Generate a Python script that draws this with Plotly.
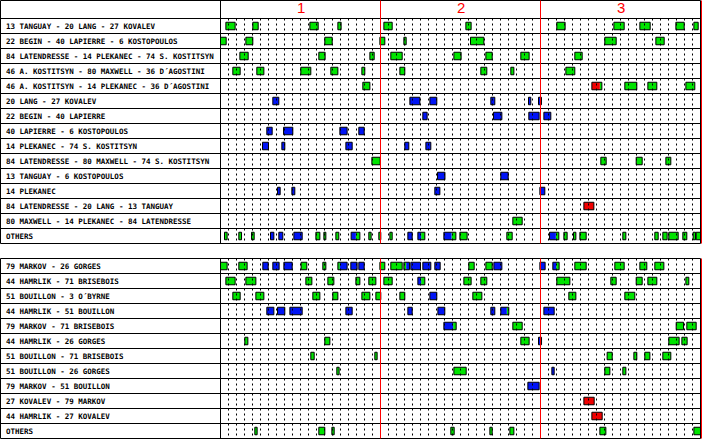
import plotly.graph_objects as go

# ---------------- data ----------------
periods = ["1", "2", "3"]
period_ends = [20, 40, 60]

top_labels = [
    "13 TANGUAY - 20 LANG - 27 KOVALEV",
    "22 BEGIN - 40 LAPIERRE - 6 KOSTOPOULOS",
    "84 LATENDRESSE - 14 PLEKANEC - 74 S. KOSTITSYN",
    "46 A. KOSTITSYN - 80 MAXWELL - 36 D\u00b4AGOSTINI",
    "46 A. KOSTITSYN - 14 PLEKANEC - 36 D\u00b4AGOSTINI",
    "20 LANG - 27 KOVALEV",
    "22 BEGIN - 40 LAPIERRE",
    "40 LAPIERRE - 6 KOSTOPOULOS",
    "14 PLEKANEC - 74 S. KOSTITSYN",
    "84 LATENDRESSE - 80 MAXWELL - 74 S. KOSTITSYN",
    "13 TANGUAY - 6 KOSTOPOULOS",
    "14 PLEKANEC",
    "84 LATENDRESSE - 20 LANG - 13 TANGUAY",
    "80 MAXWELL - 14 PLEKANEC - 84 LATENDRESSE",
    "OTHERS",
]

# shifts: (start minute, end minute, state)  G = even strength, B = power play, R = short-handed
top_shifts = [
    [(0.67, 1.83, "G"), (4.04, 4.71, "G"), (11.17, 12.21, "G"), (14.67, 15.08, "G"), (20.42, 21.46, "G"),
     (30.67, 31.33, "G"), (42.04, 43.08, "G"), (49.17, 50.46, "G"), (52.42, 53.71, "G"), (56.92, 57.96, "G"),
     (59.17, 59.71, "G")],
    [(0.0, 0.71, "G"), (3.17, 4.04, "G"), (13.04, 13.96, "G"), (19.92, 20.54, "G"), (22.92, 23.21, "G"),
     (31.25, 32.92, "G"), (48.04, 49.46, "G"), (54.42, 55.46, "G")],
    [(2.42, 3.46, "G"), (12.29, 13.08, "G"), (18.67, 19.21, "G"), (21.29, 22.71, "G"), (29.17, 30.08, "G"),
     (33.17, 33.96, "G"), (37.54, 38.58, "G"), (44.29, 45.21, "G")],
    [(1.54, 2.46, "G"), (4.54, 5.42, "G"), (10.04, 11.29, "G"), (13.79, 14.67, "G"), (17.67, 18.04, "G"),
     (22.42, 23.04, "G"), (32.54, 33.29, "G"), (36.29, 36.67, "G"), (43.17, 44.29, "G")],
    [(17.79, 18.67, "G"), (46.42, 47.42, "R"), (47.42, 47.67, "G"), (50.54, 52.04, "G"), (53.42, 54.54, "G"),
     (58.17, 59.29, "G")],
    [(6.54, 7.29, "B"), (23.67, 24.92, "B"), (26.17, 27.04, "B"), (33.79, 34.29, "B"), (38.50, 38.79, "B"),
     (39.75, 40.12, "B")],
    [(25.29, 25.83, "B"), (34.13, 35.17, "B"), (38.54, 39.83, "B"), (40.42, 41.29, "B")],
    [(5.79, 6.46, "B"), (7.88, 9.04, "B"), (14.92, 15.83, "B"), (17.29, 17.96, "B")],
    [(5.25, 6.00, "B"), (7.67, 8.04, "B"), (15.67, 16.46, "B"), (23.04, 23.54, "B"), (25.67, 26.29, "B")],
    [(18.92, 19.96, "G"), (47.54, 48.21, "G"), (51.96, 52.71, "G"), (55.67, 56.29, "G")],
    [(27.13, 28.06, "B"), (35.04, 35.96, "B")],
    [(7.13, 7.46, "B"), (8.92, 9.29, "B"), (26.79, 27.42, "B"), (39.92, 40.54, "B")],
    [(45.42, 46.67, "R")],
    [(36.54, 37.71, "G")],
    [(0.50, 0.83, "G"), (2.29, 2.63, "G"), (3.88, 4.21, "G"), (6.25, 6.67, "B"), (7.29, 7.79, "B"),
     (9.17, 10.21, "B"), (11.92, 12.42, "G"), (12.92, 13.17, "G"), (14.42, 14.79, "G"), (16.33, 16.92, "B"),
     (16.92, 17.42, "G"), (18.54, 18.83, "G"), (19.79, 20.04, "G"), (21.17, 21.46, "G"), (23.42, 23.96, "B"),
     (24.67, 25.08, "B"), (25.08, 25.54, "G"), (27.92, 28.88, "B"), (28.88, 29.42, "G"), (29.92, 30.83, "G"),
     (35.79, 36.46, "G"), (41.13, 41.92, "B"), (41.92, 42.29, "G"), (42.92, 43.33, "G"), (44.13, 44.42, "G"),
     (44.92, 45.71, "G"), (50.29, 50.67, "G"), (54.29, 54.71, "G"), (55.29, 55.83, "G"), (56.04, 57.21, "G"),
     (57.79, 58.29, "G"), (59.08, 59.38, "G"), (59.46, 60.00, "G")],
]

bottom_labels = [
    "79 MARKOV - 26 GORGES",
    "44 HAMRLIK - 71 BRISEBOIS",
    "51 BOUILLON - 3 O\u00b4BYRNE",
    "44 HAMRLIK - 51 BOUILLON",
    "79 MARKOV - 71 BRISEBOIS",
    "44 HAMRLIK - 26 GORGES",
    "51 BOUILLON - 71 BRISEBOIS",
    "51 BOUILLON - 26 GORGES",
    "79 MARKOV - 51 BOUILLON",
    "27 KOVALEV - 79 MARKOV",
    "44 HAMRLIK - 27 KOVALEV",
    "OTHERS",
]

bottom_shifts = [
    [(0.0, 0.83, "G"), (2.29, 3.33, "G"), (5.29, 5.96, "B"), (6.54, 7.33, "B"), (7.92, 8.96, "B"),
     (10.08, 10.79, "G"), (12.79, 13.17, "G"), (14.67, 14.92, "G"), (14.92, 15.83, "B"), (16.29, 17.08, "B"),
     (17.29, 17.96, "B"), (19.92, 20.54, "G"), (21.29, 22.71, "G"), (22.92, 23.21, "G"), (23.21, 23.63, "B"),
     (23.79, 25.00, "B"), (25.29, 26.29, "B"), (26.79, 27.46, "B"), (31.04, 31.71, "G"), (33.17, 33.96, "G"),
     (34.17, 35.17, "B"), (39.92, 40.58, "B"), (41.54, 41.96, "B"), (41.96, 42.33, "G"), (44.29, 45.71, "G"),
     (49.29, 50.46, "G"), (52.42, 53.29, "G"), (54.29, 55.42, "G")],
    [(0.67, 1.83, "G"), (3.17, 4.42, "G"), (10.67, 11.42, "G"), (13.42, 14.17, "G"), (16.92, 17.42, "G"),
     (18.54, 19.42, "G"), (20.42, 21.46, "G"), (24.67, 25.08, "B"), (25.08, 25.54, "G"), (30.42, 31.33, "G"),
     (32.54, 33.29, "G"), (42.04, 43.67, "G"), (48.79, 49.46, "G"), (51.96, 52.71, "G"), (53.42, 54.54, "G"),
     (58.17, 58.54, "G")],
    [(1.54, 2.46, "G"), (4.42, 5.42, "G"), (11.54, 12.42, "G"), (14.04, 14.67, "G"), (17.67, 18.67, "G"),
     (19.42, 20.04, "G"), (22.42, 23.04, "G"), (26.17, 27.04, "B"), (31.54, 32.67, "G"), (43.54, 44.42, "G"),
     (50.54, 51.79, "G")],
    [(5.79, 6.67, "B"), (7.13, 8.04, "B"), (8.67, 10.21, "B"), (15.67, 16.46, "B"), (23.42, 23.96, "B"),
     (27.17, 28.04, "B"), (33.79, 34.29, "B"), (35.04, 35.79, "B"), (35.79, 36.04, "G"), (40.42, 41.71, "B")],
    [(27.92, 29.08, "B"), (29.08, 29.46, "G"), (36.54, 37.71, "G"), (56.96, 57.88, "G"), (58.29, 59.46, "G")],
    [(3.04, 3.42, "G"), (13.04, 13.67, "G"), (37.54, 38.58, "G"), (39.75, 40.13, "B"), (56.04, 57.33, "G"),
     (57.67, 58.33, "G")],
    [(11.29, 11.71, "G"), (19.29, 19.58, "G"), (48.33, 48.96, "G"), (51.67, 52.04, "G"), (53.04, 53.67, "G"),
     (55.29, 56.29, "G")],
    [(14.54, 14.83, "G"), (29.17, 30.71, "G"), (41.42, 41.71, "B"), (48.04, 48.67, "G"), (50.29, 50.67, "G")],
    [(38.42, 39.83, "B")],
    [(45.42, 46.71, "R")],
    [(46.42, 47.71, "R")],
    [(4.29, 4.58, "G"), (12.29, 13.04, "G"), (13.92, 14.21, "G"), (28.79, 29.21, "G"), (33.67, 33.96, "G"),
     (36.17, 36.67, "G"), (47.42, 48.17, "G"), (59.17, 60.00, "G")],
]

# ---------------- styling / geometry ----------------
W, H = 702, 439
LABEL_PX = 220.5
PX_PER_MIN = 8.0
ROW_PX = 15.0
TOP_PX = 18.5
STATE_COLORS = {"G": "#00e400", "B": "#0014f5", "R": "#f00000"}
FONT = "DejaVu Sans Mono, monospace"

x_min = -LABEL_PX / PX_PER_MIN
x_max = (W - LABEL_PX) / PX_PER_MIN
y_top = -TOP_PX / ROW_PX
y_bot = (H - TOP_PX) / ROW_PX

n_top = len(top_labels)
bot_start = n_top + 1
n_bot = len(bottom_labels)
sections = [(0, n_top), (bot_start, bot_start + n_bot)]

row_y = [i + 0.5 for i in range(n_top)] + [bot_start + j + 0.5 for j in range(n_bot)]
all_labels = top_labels + bottom_labels
all_shifts = top_shifts + bottom_shifts

fig = go.Figure()

# dotted minute lines inside each section
gx, gy = [], []
for (s0, s1) in sections:
    for m in range(1, 60):
        if m in period_ends:
            continue
        gx += [m, m, None]
        gy += [s0, s1, None]
fig.add_trace(go.Scatter(x=gx, y=gy, mode="lines", hoverinfo="skip", showlegend=False,
                         line=dict(color="black", width=1, dash="2px,3px")))

# filled segments per state
for state, col in STATE_COLORS.items():
    base, dur, ys = [], [], []
    for y, shifts in zip(row_y, all_shifts):
        for (a, b, s) in shifts:
            if s == state:
                base.append(a)
                dur.append(b - a)
                ys.append(y)
    fig.add_trace(go.Bar(orientation="h", base=base, x=dur, y=ys, width=0.5,
                         marker=dict(color=col, line=dict(width=0)),
                         hoverinfo="skip", showlegend=False))

# outlines around contiguous shifts
ob, od, oy = [], [], []
for y, shifts in zip(row_y, all_shifts):
    groups = []
    for (a, b, s) in sorted(shifts):
        if groups and abs(groups[-1][1] - a) < 1e-6:
            groups[-1][1] = b
        else:
            groups.append([a, b])
    for a, b in groups:
        ob.append(a)
        od.append(b - a)
        oy.append(y)
fig.add_trace(go.Bar(orientation="h", base=ob, x=od, y=oy, width=0.5,
                     marker=dict(color="rgba(0,0,0,0)", line=dict(color="black", width=1)),
                     hoverinfo="skip", showlegend=False))

shapes = []
def hline(y, x0=x_min + 1 / 16, x1=60, color="black"):
    shapes.append(dict(type="line", xref="x", yref="y", x0=x0, x1=x1, y0=y, y1=y,
                       line=dict(color=color, width=1), layer="above"))

def vline(x, y0, y1, color="black"):
    shapes.append(dict(type="line", xref="x", yref="y", x0=x, x1=x, y0=y0, y1=y1,
                       line=dict(color=color, width=1), layer="above"))

# top section (with header)
hdr_top = y_top + 0.5 / ROW_PX
hline(hdr_top)
for i in range(n_top + 1):
    hline(i)
left = x_min + 0.5 / PX_PER_MIN
vline(left, hdr_top, n_top)
vline(0, hdr_top, n_top)
vline(60, hdr_top, n_top)
# bottom section
for j in range(n_bot + 1):
    hline(bot_start + j)
vline(left, bot_start, bot_start + n_bot)
vline(0, bot_start, bot_start + n_bot)
vline(60, bot_start, bot_start + n_bot)
# period lines
for pe in period_ends:
    xx = pe if pe < 60 else 60 + 1 / PX_PER_MIN
    vline(xx, hdr_top, n_top, color="#ff0000")
    vline(xx, bot_start, bot_start + n_bot, color="#ff0000")

annotations = []
for y, lab in zip(row_y, all_labels):
    annotations.append(dict(x=x_min + 4 / PX_PER_MIN, y=y, xref="x", yref="y", text="<b>" + lab + "</b>",
                            showarrow=False, xanchor="left", yanchor="middle",
                            font=dict(family=FONT, size=7.5, color="black")))
prev = 0
for p, pe in zip(periods, period_ends):
    annotations.append(dict(x=(prev + pe) / 2, y=-0.75, xref="x", yref="y", text=p,
                            showarrow=False, xanchor="center", yanchor="middle",
                            font=dict(family="Liberation Sans, Arial, sans-serif", size=15, color="#ff0000")))
    prev = pe

fig.update_layout(
    width=W, height=H, autosize=False,
    margin=dict(l=0, r=0, t=0, b=0, pad=0),
    paper_bgcolor="white", plot_bgcolor="white",
    barmode="overlay", showlegend=False,
    xaxis=dict(range=[x_min, x_max], visible=False, fixedrange=True),
    yaxis=dict(range=[y_bot, y_top], visible=False, fixedrange=True),
    shapes=shapes, annotations=annotations,
)

fig.write_html("out.html", config={"displayModeBar": False, "staticPlot": True},
               post_script="document.body.style.margin='0px';")
